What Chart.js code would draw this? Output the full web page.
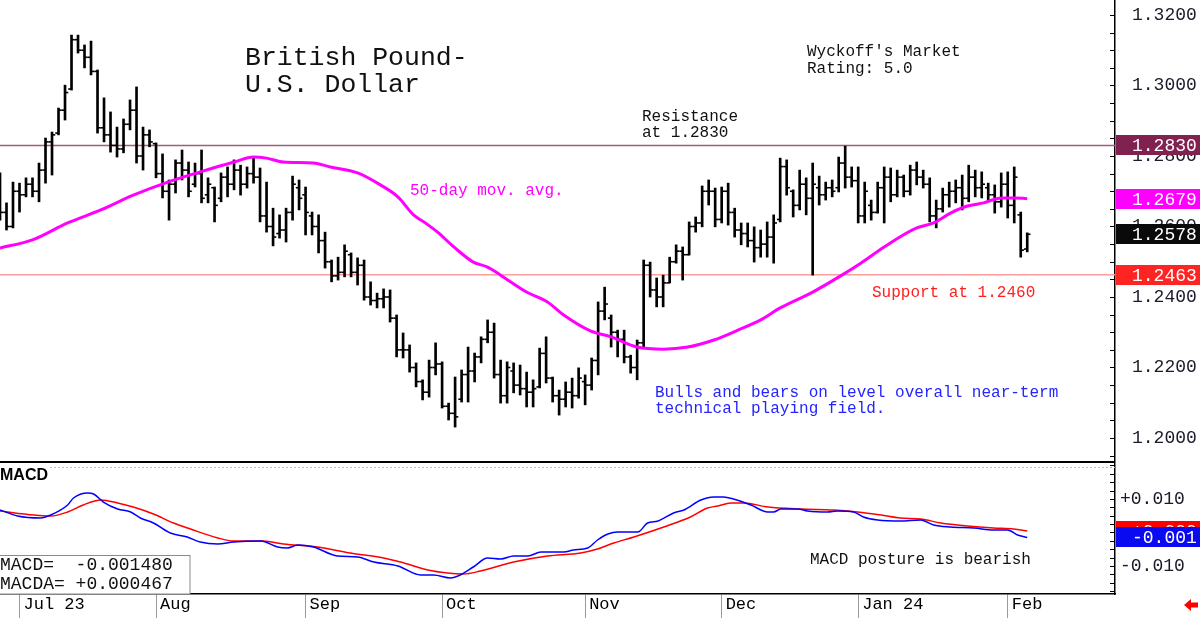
<!DOCTYPE html>
<html><head><meta charset="utf-8">
<script src="https://cdn.jsdelivr.net/npm/chart.js@4.4.1/dist/chart.umd.min.js"></script>
<style>
html,body{margin:0;padding:0;background:#fff;}
#wrap{position:relative;width:1200px;height:618px;overflow:hidden;background:#fff;}
#c1{position:absolute;left:0;top:0;}
#c2{position:absolute;left:0;top:463px;}
</style></head><body>
<div id="wrap"><canvas id="c1" width="1200" height="463"></canvas><canvas id="c2" width="1200" height="155"></canvas></div>
<script>
// ---------- DATA ----------
const high = [
1.2752,1.2667,1.2726,1.2723,1.2738,1.2738,1.2780,1.2851,1.2868,1.2936,
1.3001,1.3143,1.3143,1.3115,1.3126,1.3044,1.2965,1.2925,1.2882,1.2905,
1.2959,1.2996,1.2882,1.2874,1.2837,1.2806,1.2732,1.2789,1.2817,1.2783,
1.2780,1.2817,1.2738,1.2712,1.2752,1.2769,1.2789,1.2774,1.2769,1.2797,
1.2766,1.2726,1.2652,1.2633,1.2652,1.2743,1.2732,1.2712,1.2641,1.2633,
1.2584,1.2505,1.2513,1.2548,1.2525,1.2511,1.2505,1.2443,1.2411,1.2423,
1.2420,1.2349,1.2298,1.2264,1.2213,1.2165,1.2221,1.2270,1.2216,1.2099,
1.2173,1.2193,1.2258,1.2241,1.2287,1.2335,1.2326,1.2221,1.2216,1.2213,
1.2207,1.2187,1.2165,1.2255,1.2287,1.2173,1.2136,1.2159,1.2170,1.2199,
1.2179,1.2227,1.2386,1.2428,1.2349,1.2306,1.2306,1.2235,1.2278,1.2505,
1.2499,1.2454,1.2462,1.2513,1.2548,1.2542,1.2613,1.2627,1.2715,1.2732,
1.2709,1.2712,1.2723,1.2652,1.2610,1.2610,1.2599,1.2590,1.2613,1.2633,
1.2794,1.2789,1.2704,1.2760,1.2738,1.2780,1.2743,1.2726,1.2732,1.2797,
1.2828,1.2769,1.2769,1.2726,1.2675,1.2726,1.2769,1.2766,1.2760,1.2746,
1.2774,1.2783,1.2760,1.2738,1.2675,1.2709,1.2726,1.2732,1.2746,1.2774,
1.2760,1.2755,1.2723,1.2718,1.2752,1.2755,1.2769,1.2641,1.2582];
const low = [
1.2618,1.2590,1.2596,1.2641,1.2684,1.2684,1.2670,1.2723,1.2746,1.2860,
1.2902,1.2987,1.3092,1.3050,1.3030,1.2865,1.2840,1.2811,1.2797,1.2809,
1.2874,1.2780,1.2760,1.2826,1.2738,1.2681,1.2618,1.2695,1.2732,1.2684,
1.2712,1.2667,1.2667,1.2613,1.2670,1.2684,1.2704,1.2689,1.2709,1.2723,
1.2613,1.2584,1.2545,1.2567,1.2556,1.2618,1.2647,1.2576,1.2576,1.2525,
1.2482,1.2443,1.2448,1.2457,1.2457,1.2434,1.2391,1.2377,1.2369,1.2369,
1.2329,1.2230,1.2227,1.2187,1.2145,1.2108,1.2116,1.2179,1.2085,1.2051,
1.2031,1.2102,1.2102,1.2159,1.2213,1.2270,1.2170,1.2099,1.2099,1.2128,
1.2122,1.2088,1.2088,1.2142,1.2156,1.2102,1.2065,1.2088,1.2085,1.2113,
1.2094,1.2136,1.2179,1.2335,1.2258,1.2230,1.2213,1.2184,1.2165,1.2258,
1.2400,1.2372,1.2372,1.2440,1.2496,1.2448,1.2519,1.2584,1.2599,1.2661,
1.2599,1.2610,1.2604,1.2570,1.2548,1.2542,1.2499,1.2513,1.2513,1.2496,
1.2613,1.2689,1.2627,1.2647,1.2633,1.2462,1.2661,1.2675,1.2684,1.2698,
1.2709,1.2712,1.2610,1.2610,1.2618,1.2638,1.2610,1.2670,1.2684,1.2684,
1.2689,1.2718,1.2709,1.2613,1.2596,1.2641,1.2655,1.2667,1.2647,1.2670,
1.2684,1.2681,1.2670,1.2638,1.2655,1.2624,1.2610,1.2513,1.2528];
const open = [
1.2740,1.2640,1.2600,1.2700,1.2690,1.2720,1.2700,1.2760,1.2840,1.2865,
1.2930,1.2990,1.3130,1.3100,1.3080,1.3040,1.2880,1.2860,1.2830,1.2820,
1.2890,1.2930,1.2800,1.2860,1.2835,1.2750,1.2700,1.2720,1.2780,1.2760,
1.2720,1.2750,1.2690,1.2710,1.2680,1.2740,1.2720,1.2760,1.2720,1.2750,
1.2740,1.2630,1.2600,1.2580,1.2590,1.2640,1.2710,1.2690,1.2630,1.2600,
1.2560,1.2500,1.2460,1.2470,1.2520,1.2470,1.2490,1.2400,1.2390,1.2395,
1.2400,1.2340,1.2250,1.2250,1.2200,1.2160,1.2130,1.2200,1.2210,1.2090,
1.2070,1.2110,1.2180,1.2190,1.2230,1.2280,1.2300,1.2180,1.2120,1.2190,
1.2150,1.2140,1.2130,1.2145,1.2240,1.2170,1.2120,1.2110,1.2130,1.2120,
1.2160,1.2150,1.2220,1.2360,1.2340,1.2300,1.2280,1.2230,1.2200,1.2270,
1.2490,1.2420,1.2400,1.2440,1.2500,1.2530,1.2520,1.2600,1.2610,1.2700,
1.2700,1.2620,1.2700,1.2640,1.2590,1.2580,1.2560,1.2540,1.2550,1.2570,
1.2620,1.2770,1.2700,1.2660,1.2720,1.2680,1.2710,1.2690,1.2710,1.2710,
1.2780,1.2740,1.2730,1.2630,1.2660,1.2640,1.2710,1.2740,1.2690,1.2740,
1.2700,1.2760,1.2740,1.2720,1.2630,1.2650,1.2690,1.2700,1.2710,1.2680,
1.2740,1.2710,1.2710,1.2690,1.2670,1.2720,1.2660,1.2633,1.2536];
const close = [
1.2640,1.2600,1.2700,1.2690,1.2720,1.2700,1.2760,1.2840,1.2860,1.2930,
1.2980,1.3130,1.3100,1.3080,1.3040,1.2880,1.2860,1.2830,1.2820,1.2890,
1.2930,1.2800,1.2860,1.2840,1.2750,1.2700,1.2720,1.2780,1.2760,1.2700,
1.2750,1.2680,1.2720,1.2660,1.2740,1.2720,1.2760,1.2720,1.2750,1.2740,
1.2630,1.2600,1.2570,1.2590,1.2640,1.2720,1.2680,1.2640,1.2600,1.2560,
1.2500,1.2460,1.2470,1.2530,1.2470,1.2490,1.2400,1.2390,1.2395,1.2400,
1.2340,1.2250,1.2250,1.2200,1.2160,1.2130,1.2200,1.2210,1.2090,1.2070,
1.2060,1.2180,1.2190,1.2230,1.2280,1.2300,1.2180,1.2120,1.2200,1.2150,
1.2140,1.2130,1.2140,1.2240,1.2170,1.2120,1.2110,1.2130,1.2120,1.2170,
1.2150,1.2220,1.2360,1.2380,1.2300,1.2280,1.2230,1.2200,1.2270,1.2490,
1.2420,1.2400,1.2440,1.2500,1.2530,1.2520,1.2600,1.2610,1.2700,1.2700,
1.2620,1.2700,1.2640,1.2590,1.2580,1.2560,1.2540,1.2550,1.2570,1.2610,
1.2770,1.2710,1.2660,1.2720,1.2680,1.2720,1.2690,1.2710,1.2700,1.2780,
1.2740,1.2730,1.2630,1.2700,1.2640,1.2710,1.2740,1.2690,1.2740,1.2700,
1.2760,1.2740,1.2720,1.2630,1.2650,1.2690,1.2700,1.2710,1.2680,1.2740,
1.2710,1.2720,1.2690,1.2670,1.2720,1.2660,1.2740,1.2533,1.2578];

// 50-day moving average, read at bar positions
const maIndex = [0,5,10.4,15.5,20.5,25.8,30.8,36,39,41,43.6,48.2,50.8,55,58.5,61.2,63.6,65.2,67.3,69.8,72.8,75,77,81,84.2,86.7,90.8,94,98,102,105.8,109.8,113.5,117,120,125,129.3,132.4,136,141,143.6,146.2,148.8,151.3,154,156,158];
const maValue = [1.2539,1.2562,1.2610,1.2647,1.2689,1.2726,1.2755,1.2783,1.2797,1.2794,1.2783,1.2780,1.2769,1.2752,1.2718,1.2684,1.2633,1.2613,1.2584,1.2542,1.2499,1.2485,1.2462,1.2414,1.2386,1.2349,1.2304,1.2287,1.2258,1.2252,1.2258,1.2278,1.2306,1.2335,1.2369,1.2414,1.2460,1.2496,1.2542,1.2596,1.2610,1.2638,1.2658,1.2667,1.2681,1.2681,1.2679];

// MACD (blue) and MACDA signal (red)
const macdIndex = [0,2.7,6.2,7.8,10.4,11.3,13.5,14.4,15.9,18.1,20.1,21.6,23.6,26.2,28.8,30.8,33.5,35.9,40.1,42.7,44.2,45.8,48.2,51.9,55,57.5,61.2,64.7,66.7,69.3,70.8,72.8,75,77,79,81.2,83.2,86.7,88.2,90.4,91.9,93.5,95,98.1,99.6,101.2,103.6,105.2,107.8,109.8,111.3,112.8,115.5,118.1,119,120.1,122.7,124.2,127.3,128.8,131.3,132.8,135,138.5,141.6,143.6,146.2,149.8,152.8,155,156.5,158];
const macdValue = [0.00672,0.00493,0.00433,0.00522,0.00821,0.01030,0.01179,0.01149,0.00910,0.00701,0.00612,0.00433,0.00284,-0.00015,-0.00134,-0.00284,-0.00343,-0.00284,-0.00254,-0.00433,-0.00463,-0.00373,-0.00433,-0.00701,-0.00731,-0.00881,-0.01000,-0.01269,-0.01269,-0.01358,-0.01269,-0.01030,-0.00761,-0.00791,-0.00701,-0.00701,-0.00582,-0.00582,-0.00522,-0.00463,-0.00224,-0.00045,0.00015,0.00015,0.00284,0.00343,0.00582,0.00672,0.00970,0.01060,0.01060,0.01000,0.00821,0.00612,0.00612,0.00701,0.00701,0.00642,0.00612,0.00642,0.00612,0.00463,0.00373,0.00343,0.00373,0.00224,0.00164,0.00134,0.00075,0.00075,-0.00075,-0.00148];
const sigIndex = [0,5.2,7.8,10.4,12.8,15.5,18.1,20.5,23.6,26.7,29.3,33.5,35.9,40.5,43.6,48.8,53.9,59,61.6,65.8,68.8,71.3,73.9,79,84.2,89.3,91.9,94.4,97.5,102.1,106.2,108.8,110.4,112.4,114.4,118.1,123.2,128.2,131.9,135.5,138.5,141.6,144.7,148.8,152.8,155.9,158];
const sigValue = [0.00642,0.00522,0.00493,0.00612,0.00821,0.00970,0.00881,0.00761,0.00552,0.00284,0.00104,-0.00164,-0.00254,-0.00254,-0.00343,-0.00433,-0.00612,-0.00761,-0.00881,-0.01119,-0.01209,-0.01239,-0.01149,-0.00881,-0.00701,-0.00612,-0.00493,-0.00313,-0.00134,0.00164,0.00463,0.00731,0.00791,0.00881,0.00881,0.00761,0.00701,0.00672,0.00612,0.00522,0.00433,0.00403,0.00284,0.00194,0.00134,0.00104,0.00047];
const macdNow = -0.001480;
const macdaNow = 0.000467;

// axes
const monthIndex = [3,24,47,68,90,111,132,155];
const monthLabels = ['Jul 23','Aug','Sep','Oct','Nov','Dec','Jan 24','Feb'];
const priceLabels = ['1.2000','1.2200','1.2400','1.2600','1.2800','1.3000','1.3200'];
const macdLabels = {'0.010':'+0.010','0.000':'','-0.010':'-0.010'};
const resistanceLevel = 1.2830;
const supportLevel = 1.2463;

// ---------- LAYOUT / STYLE ----------
const MONO = "'Liberation Mono', 'DejaVu Sans Mono', monospace";
const X_MIN = 0, X_MAX = 171.5;
const P_MIN = 1.193191, P_MAX = 1.324255;
const M_MIN = -0.018358, M_MAX = 0.020746;

function noPad(s) { s.paddingTop = 0; s.paddingBottom = 0; s.paddingLeft = 0; s.paddingRight = 0; }

function txt(ctx, s, x, y, size, color, font) {
  ctx.font = (font || (size + 'px ' + MONO));
  ctx.fillStyle = color; ctx.textAlign = 'left'; ctx.textBaseline = 'alphabetic';
  ctx.fillText(s, x, y);
}
function box(ctx, chart, scale, value, color, label) {
  const py = scale.getPixelForValue(value);
  const x0 = chart.chartArea.right + 1;
  ctx.fillStyle = color;
  ctx.fillRect(x0, Math.round(py) - 10, chart.width - x0, 20);
  ctx.font = '18px ' + MONO; ctx.fillStyle = '#fff';
  ctx.textAlign = 'left'; ctx.textBaseline = 'middle';
  ctx.fillText(label, 1132, Math.round(py) + 1);
}
function innerTicks(ctx, chart, scale) {
  ctx.strokeStyle = '#000'; ctx.lineWidth = 1;
  const r = chart.chartArea.right;
  scale.ticks.forEach(t => {
    const py = Math.round(scale.getPixelForValue(t.value)) + 0.5;
    ctx.beginPath(); ctx.moveTo(r - 5, py); ctx.lineTo(r, py); ctx.stroke();
  });
}

const mainDeco = {
  id: 'mainDeco',
  beforeDatasetsDraw(chart) {
    const ctx = chart.ctx, a = chart.chartArea, y = chart.scales.y;
    ctx.save();
    ctx.lineWidth = 1.5;
    ctx.strokeStyle = '#A45C7C';
    let py = y.getPixelForValue(resistanceLevel);
    ctx.beginPath(); ctx.moveTo(a.left, py); ctx.lineTo(a.right, py); ctx.stroke();
    ctx.strokeStyle = '#FF9C9C';
    py = y.getPixelForValue(supportLevel);
    ctx.beginPath(); ctx.moveTo(a.left, py); ctx.lineTo(a.right, py); ctx.stroke();
    ctx.restore();
  },
  afterDraw(chart) {
    const ctx = chart.ctx, a = chart.chartArea, y = chart.scales.y;
    ctx.save();
    innerTicks(ctx, chart, y);
    ctx.strokeStyle = '#000'; ctx.lineWidth = 2;
    ctx.beginPath(); ctx.moveTo(a.left, a.bottom); ctx.lineTo(a.right, a.bottom); ctx.stroke();
    txt(ctx, 'British Pound-', 245, 65, 26.5, '#111');
    txt(ctx, 'U.S. Dollar', 245, 92, 26.5, '#111');
    txt(ctx, "Wyckoff's Market", 807, 56, 16, '#111');
    txt(ctx, 'Rating: 5.0', 807, 73, 16, '#111');
    txt(ctx, 'Resistance', 642, 121, 16, '#111');
    txt(ctx, 'at 1.2830', 642, 137, 16, '#111');
    txt(ctx, '50-day mov. avg.', 410, 195, 16, '#FF00FF');
    txt(ctx, 'Support at 1.2460', 872, 297, 16, '#FF2020');
    txt(ctx, 'Bulls and bears on level overall near-term', 655, 397, 16, '#2424FF');
    txt(ctx, 'technical playing field.', 655, 413, 16, '#2424FF');
    box(ctx, chart, y, resistanceLevel, '#80214F', resistanceLevel.toFixed(4));
    box(ctx, chart, y, maValue[maValue.length - 1], '#FF00FF', maValue[maValue.length - 1].toFixed(4));
    box(ctx, chart, y, close[close.length - 1], '#0A0A0A', close[close.length - 1].toFixed(4));
    box(ctx, chart, y, supportLevel, '#FF2424', supportLevel.toFixed(4));
    ctx.restore();
  }
};

const fmtSigned = (v, d) => (v >= 0 ? '+' : '-') + Math.abs(v).toFixed(d);

const macdDeco = {
  id: 'macdDeco',
  afterDraw(chart) {
    const ctx = chart.ctx, a = chart.chartArea, y = chart.scales.y;
    ctx.save();
    innerTicks(ctx, chart, y);
    ctx.strokeStyle = '#FF9C9C'; ctx.lineWidth = 1; ctx.setLineDash([2, 2]);
    ctx.beginPath(); ctx.moveTo(50, a.top + 4.5); ctx.lineTo(a.right, a.top + 4.5); ctx.stroke();
    ctx.setLineDash([]);
    txt(ctx, 'MACD', 0, 17, 16, '#000', "bold 16px 'Liberation Sans', Arial, sans-serif");
    txt(ctx, 'MACD posture is bearish', 810, 101, 16, '#111');
    ctx.fillStyle = '#fff'; ctx.fillRect(0, 92, 190, a.bottom - 92);
    ctx.strokeStyle = '#8a8a8a'; ctx.lineWidth = 1;
    ctx.strokeRect(-1, 92.5, 191, a.bottom - 92.5);
    txt(ctx, 'MACD=  ' + fmtSigned(macdNow, 6), 0, 107, 18, '#111');
    txt(ctx, 'MACDA= ' + fmtSigned(macdaNow, 6), 0, 126, 18, '#111');
    box(ctx, chart, y, macdaNow, '#FF0000', fmtSigned(macdaNow, 3));
    box(ctx, chart, y, macdNow, '#0A0AF0', fmtSigned(macdNow, 3));
    ctx.fillStyle = '#FF0000';
    ctx.beginPath();
    ctx.moveTo(1184, 142); ctx.lineTo(1191, 136); ctx.lineTo(1191, 139.5); ctx.lineTo(1198, 139.5);
    ctx.lineTo(1198, 144.5); ctx.lineTo(1191, 144.5); ctx.lineTo(1191, 148); ctx.closePath(); ctx.fill();
    ctx.restore();
  }
};

// ---------- MAIN PRICE CHART ----------
const barData = high.map((h, i) => ({x: i, y: [low[i], h]}));
const openData = open.map((v, i) => ({x: i - 0.24, y: v}));
const closeData = close.map((v, i) => ({x: i + 0.24, y: v}));
const maData = maIndex.map((x, i) => ({x: x, y: maValue[i]}));

new Chart(document.getElementById('c1'), {
  type: 'bar',
  data: {datasets: [
    {type: 'line', data: maData, borderColor: '#FF00FF', borderWidth: 3, pointRadius: 0, cubicInterpolationMode: 'monotone', order: 0},
    {type: 'scatter', data: openData, pointStyle: 'line', pointRadius: 1.7, pointBorderColor: '#000', pointBorderWidth: 1.6, pointBackgroundColor: '#000', order: 1},
    {type: 'scatter', data: closeData, pointStyle: 'line', pointRadius: 1.7, pointBorderColor: '#000', pointBorderWidth: 1.6, pointBackgroundColor: '#000', order: 1},
    {type: 'bar', data: barData, backgroundColor: '#000', barThickness: 2, grouped: false, order: 2}
  ]},
  options: {
    responsive: false, animation: false, devicePixelRatio: 1, events: [],
    layout: {autoPadding: false, padding: {left: 0, right: 0, top: 0, bottom: 1}},
    plugins: {legend: {display: false}, tooltip: {enabled: false}},
    scales: {
      x: {type: 'linear', display: false, min: X_MIN, max: X_MAX, offset: false, grid: {offset: false}},
      y: {
        position: 'right', min: P_MIN, max: P_MAX,
        afterFit(s) { s.width = 85; noPad(s); },
        afterBuildTicks(s) {
          const t = [];
          for (let k = Math.ceil(P_MIN / 0.005); k * 0.005 <= P_MAX; k++) t.push({value: +(k * 0.005).toFixed(4)});
          s.ticks = t;
        },
        ticks: {autoSkip: false, padding: 17, color: '#1a1a2a', font: {family: MONO, size: 18},
          callback: (v) => { const s = Number(v).toFixed(4); return priceLabels.includes(s) ? s : ''; }},
        grid: {drawOnChartArea: false, drawTicks: false},
        border: {display: true, color: '#000', width: 1.5}
      }
    }
  },
  plugins: [mainDeco]
});

// ---------- MACD CHART ----------
const macdData = macdIndex.map((x, i) => ({x: x, y: macdValue[i]}));
const sigData = sigIndex.map((x, i) => ({x: x, y: sigValue[i]}));

new Chart(document.getElementById('c2'), {
  type: 'line',
  data: {datasets: [
    {data: macdData, borderColor: '#0000FF', borderWidth: 1.5, pointRadius: 0, cubicInterpolationMode: 'monotone'},
    {data: sigData, borderColor: '#FF0000', borderWidth: 1.5, pointRadius: 0, cubicInterpolationMode: 'monotone'}
  ]},
  options: {
    responsive: false, animation: false, devicePixelRatio: 1, events: [],
    layout: {autoPadding: false, padding: 0},
    plugins: {legend: {display: false}, tooltip: {enabled: false}},
    scales: {
      x: {
        type: 'linear', min: X_MIN, max: X_MAX, offset: false,
        afterFit(s) { s.height = 24; noPad(s); },
        afterBuildTicks(s) { s.ticks = monthIndex.map(v => ({value: v})); },
        ticks: {autoSkip: false, maxRotation: 0, minRotation: 0, align: 'start', labelOffset: 4, padding: -24,
          color: '#000', font: {family: MONO, size: 17},
          callback: (v, i) => monthLabels[i]},
        grid: {drawOnChartArea: false, drawTicks: true, tickLength: 24, color: '#9a9a9a', lineWidth: 1},
        border: {display: true, color: '#000', width: 1.5}
      },
      y: {
        position: 'right', min: M_MIN, max: M_MAX,
        afterFit(s) { s.width = 85; noPad(s); },
        afterBuildTicks(s) {
          const t = [];
          for (let k = Math.ceil(M_MIN / 0.0025); k * 0.0025 <= M_MAX; k++) t.push({value: +(k * 0.0025).toFixed(4)});
          s.ticks = t;
        },
        ticks: {autoSkip: false, padding: 5, color: '#1a1a2a', font: {family: MONO, size: 18},
          callback: (v) => { const s = Number(v).toFixed(3); return macdLabels[s] !== undefined ? macdLabels[s] : ''; }},
        grid: {drawOnChartArea: false, drawTicks: false},
        border: {display: true, color: '#000', width: 1.5}
      }
    }
  },
  plugins: [macdDeco]
});
</script>
</body></html>
